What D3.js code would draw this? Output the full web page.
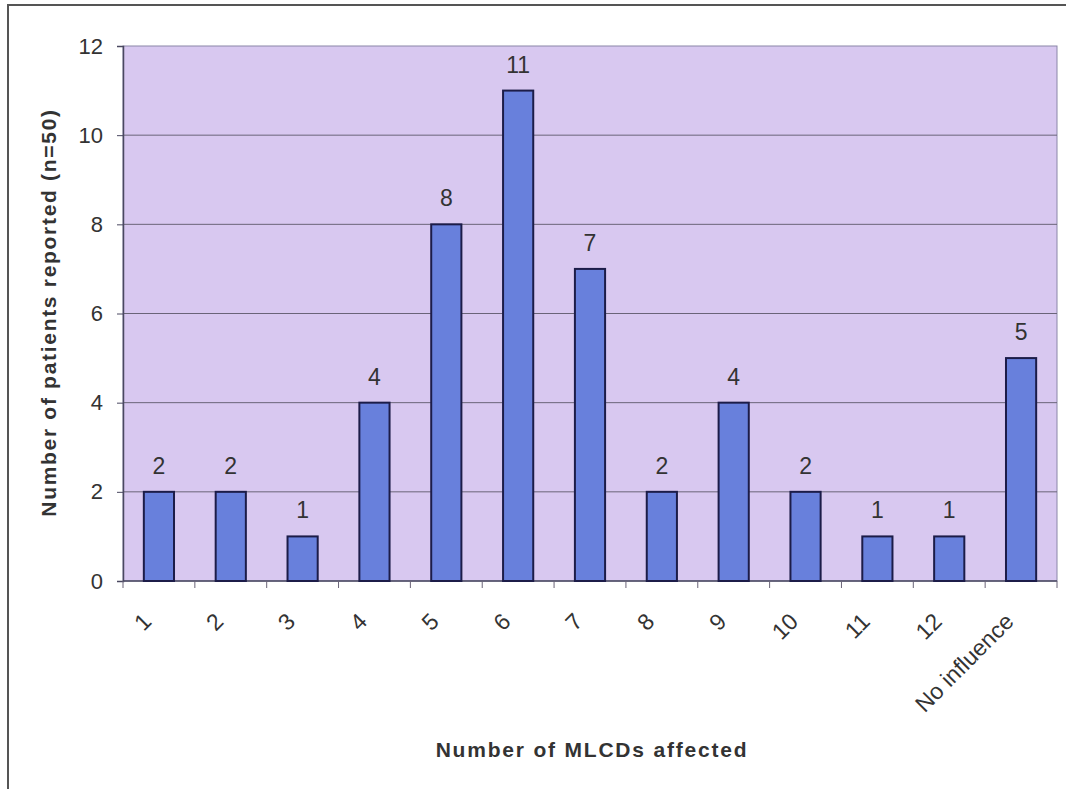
<!DOCTYPE html>
<html><head><meta charset="utf-8">
<script src="https://cdn.jsdelivr.net/npm/d3@7"></script>
<style>html,body{margin:0;padding:0;background:#fff;}svg{display:block;}</style>
</head><body>
<svg id="c" width="1066" height="789"></svg>
<script>
const categories = ["1","2","3","4","5","6","7","8","9","10","11","12","No influence"];
const patients = [2,2,1,4,8,11,7,2,4,2,1,1,5];
const yTicks = [0,2,4,6,8,10,12];

const svg = d3.select("#c");
const L = 123, R = 1057, T = 46, B = 581;
const font = "'Liberation Sans', Arial, sans-serif";

// outer chart frame
svg.append("rect").attr("x", 8).attr("y", 5).attr("width", 1080).attr("height", 800)
  .attr("fill", "#fff").attr("stroke", "#555").attr("stroke-width", 2);

const x = d3.scaleBand().domain(categories).range([L, R]).padding(0);
const y = d3.scaleLinear().domain([0, 12]).range([B, T]);

// plot area
svg.append("rect").attr("x", L).attr("y", T).attr("width", R - L).attr("height", B - T)
  .attr("fill", "#d8c8f0").attr("stroke", "#8a86a8").attr("stroke-width", 1);

// gridlines
svg.append("g").selectAll("line").data(yTicks.filter(d => d > 0 && d < 12)).join("line")
  .attr("x1", L).attr("x2", R).attr("y1", d => y(d)).attr("y2", d => y(d))
  .attr("stroke", "#6a6478").attr("stroke-width", 1);

// y axis
const ya = svg.append("g").attr("transform", `translate(${L},0)`)
  .call(d3.axisLeft(y).tickValues(yTicks).tickSize(6).tickPadding(14).tickFormat(d3.format("d")));
ya.select(".domain").attr("stroke", "#4a4860").attr("stroke-width", 1.5);
ya.selectAll(".tick line").attr("stroke", "#4a4860");
ya.selectAll("text").attr("font-family", font).attr("font-size", 22).attr("fill", "#333");

// x axis baseline and ticks between categories
svg.append("line").attr("x1", L).attr("x2", R).attr("y1", B).attr("y2", B)
  .attr("stroke", "#4a4860").attr("stroke-width", 1.5);
const bounds = categories.map(c => x(c)).concat([x(categories[categories.length - 1]) + x.bandwidth()]);
svg.append("g").selectAll("line").data(bounds).join("line")
  .attr("x1", d => d).attr("x2", d => d).attr("y1", B).attr("y2", B + 7)
  .attr("stroke", "#6a6478").attr("stroke-width", 1);

// x labels rotated
svg.append("g").selectAll("text").data(categories).join("text")
  .attr("transform", d => `translate(${x(d) + x.bandwidth() / 2 - 6},${B + 42}) rotate(-45)`)
  .attr("text-anchor", "end")
  .attr("font-family", font).attr("font-size", 23).attr("fill", "#333")
  .text(d => d);

// bars
const bw = x.bandwidth() * 0.42;
svg.append("g").selectAll("rect").data(patients).join("rect")
  .attr("x", (d, i) => x(categories[i]) + (x.bandwidth() - bw) / 2)
  .attr("y", d => y(d))
  .attr("width", bw)
  .attr("height", d => B - y(d))
  .attr("fill", "#6880dc").attr("stroke", "#1c1c48").attr("stroke-width", 2);

// data labels
svg.append("g").selectAll("text").data(patients).join("text")
  .attr("x", (d, i) => x(categories[i]) + x.bandwidth() / 2)
  .attr("y", d => y(d) - 18)
  .attr("text-anchor", "middle")
  .attr("font-family", font).attr("font-size", 23).attr("fill", "#333")
  .text(d => d);

// axis titles
svg.append("text").attr("x", 592).attr("y", 757).attr("text-anchor", "middle")
  .attr("font-family", font).attr("font-size", 21).attr("font-weight", "bold")
  .attr("letter-spacing", "1.8px").attr("fill", "#333")
  .text("Number of MLCDs affected");

svg.append("text").attr("transform", `translate(56,${(T + B) / 2 - 1}) rotate(-90)`)
  .attr("text-anchor", "middle")
  .attr("font-family", font).attr("font-size", 21).attr("font-weight", "bold")
  .attr("letter-spacing", "1.7px").attr("fill", "#333")
  .text("Number of patients reported (n=50)");
</script>
</body></html>
